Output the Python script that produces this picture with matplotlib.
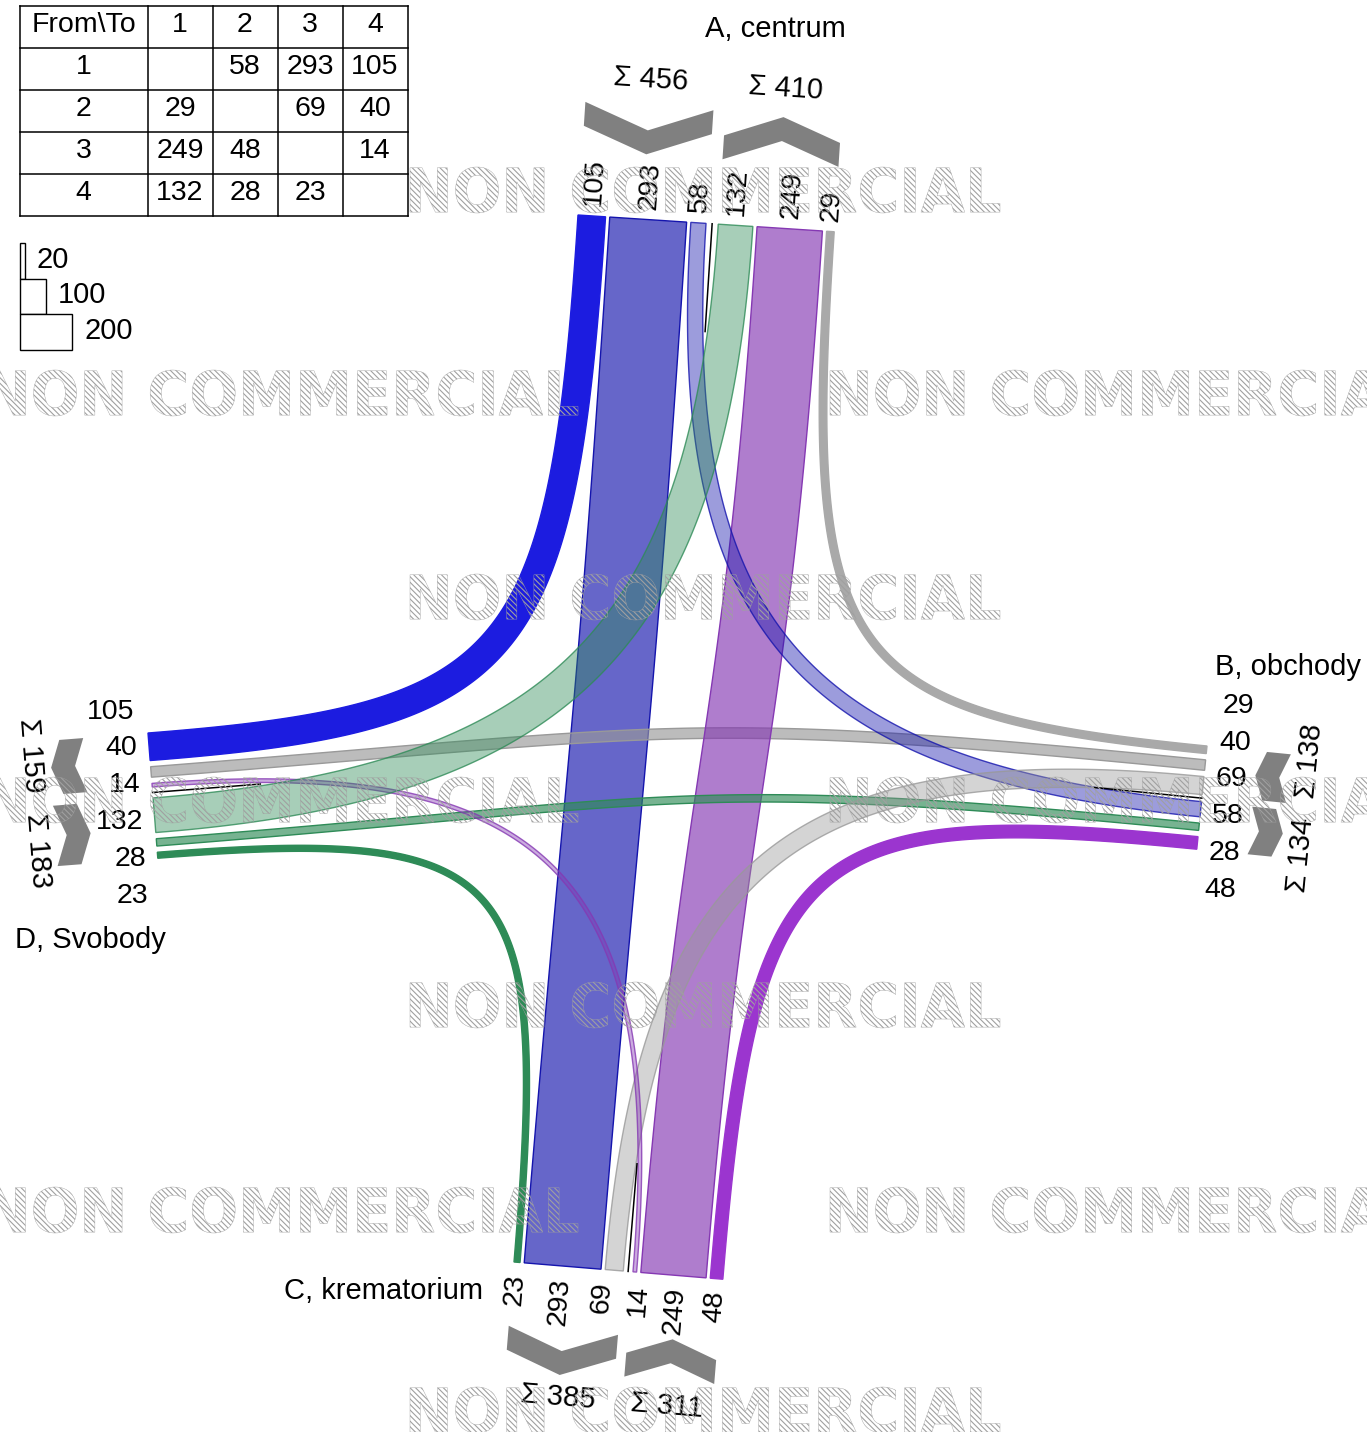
import numpy as np
import matplotlib
matplotlib.use("Agg")
import matplotlib.pyplot as plt
from matplotlib.patches import Polygon, Rectangle, PathPatch
from matplotlib.textpath import TextPath
from matplotlib.font_manager import FontProperties
from matplotlib.transforms import Affine2D

plt.rcParams['font.family'] = ['Liberation Sans', 'DejaVu Sans']
plt.rcParams['hatch.linewidth'] = 0.8
plt.rcParams['hatch.color'] = '#a0a0a0'

# ---- data ----
arm_ids = ["1", "2", "3", "4"]
arm_names = ["A, centrum", "B, obchody", "C, krematorium", "D, Svobody"]
od_matrix = [
    [0, 58, 293, 105],
    [29, 0, 69, 40],
    [249, 48, 0, 14],
    [132, 28, 23, 0],
]
legend_values = [20, 100, 200]

# ---- layout (pixel coords of the picture) ----
W, H = 1367, 1432
SCALE = 0.263  # px per vehicle

# arms: 0 top, 1 right, 2 bottom, 3 left
arms = [
    dict(base=(578, 215), ang=3.74, sgn=1, flat=False,
         lanes=[("out", 3), ("out", 2), ("out", 1), ("in", 3), ("in", 2), ("in", 1)],
         gap=4.2, med=12.2, chev=65, lab_t=10, sum_t=140, name_xy=(775, 29)),
    dict(base=(1207, 746), ang=95.66, sgn=1, flat=True,
         lanes=[("out", 0), ("out", 3), ("out", 2), ("in", 0), ("in", 3), ("in", 2)],
         gap=6.3, med=7.0, chev=51, lab_t=12, sum_t=104, name_xy=(1288, 667)),
    dict(base=(514, 1262), ang=4.72, sgn=-1, flat=False,
         lanes=[("in", 3), ("in", 0), ("in", 1), ("out", 3), ("out", 0), ("out", 1)],
         gap=4.2, med=9.7, chev=64, lab_t=12, sum_t=131, name_xy=(384, 1291)),
    dict(base=(148, 733), ang=85.53, sgn=-1, flat=True,
         lanes=[("in", 0), ("in", 1), ("in", 2), ("out", 0), ("out", 1), ("out", 2)],
         gap=6.2, med=10.9, chev=65, lab_t=12, sum_t=119, name_xy=(90, 940)),
]

strong = ['#1c1ce0', '#a9a9a9', '#9b35cf', '#2e8b57']
soft = [(0.08, 0.08, 0.68), (0.6, 0.6, 0.6), (0.52, 0.22, 0.70), (0.18, 0.545, 0.34)]

fig = plt.figure(figsize=(W / 100, H / 100), dpi=100)
ax = fig.add_axes([0, 0, 1, 1])
ax.set_xlim(0, W)
ax.set_ylim(H, 0)
ax.axis('off')


def spread(desired, step):
    groups = [[x] for x in desired]

    def place(g):
        c = sum(g) / len(g)
        return [c + (k - (len(g) - 1) / 2) * step for k in range(len(g))]
    merged = True
    while merged:
        merged = False
        for k in range(len(groups) - 1):
            if place(groups[k + 1])[0] - place(groups[k])[-1] < step - 1e-6:
                groups[k] = groups[k] + groups[k + 1]
                del groups[k + 1]
                merged = True
                break
    return [p for g in groups for p in place(g)]


def disp_angle(v):
    return np.degrees(np.arctan2(-v[1], v[0]))


# lane geometry
lane = {}
for a, arm in enumerate(arms):
    r = np.radians(arm["ang"])
    arm["e"] = np.array([np.cos(r), np.sin(r)])
    arm["n"] = arm["sgn"] * np.array([-np.sin(r), np.cos(r)])
    arm["B"] = np.array(arm["base"], float)
    s = 0.0
    prev = None
    arm["groups"] = {}
    arm["centers"] = []
    arm["values"] = []
    for kind, other in arm["lanes"]:
        v = od_matrix[a][other] if kind == "out" else od_matrix[other][a]
        w = v * SCALE
        if prev is not None:
            s += arm["med"] if kind != prev else arm["gap"]
        if kind not in arm["groups"]:
            arm["groups"][kind] = [s, s, 0]
        lane[(a, kind, other)] = (s + w / 2, w)
        arm["centers"].append(s + w / 2)
        arm["values"].append(v)
        s += w
        arm["groups"][kind][1] = s
        arm["groups"][kind][2] += v
        prev = kind


def P(arm, s, t):
    # t > 0 is outward from the junction
    return arm["B"] + arm["e"] * s - arm["n"] * t


# ---- flows ----
flows = []
for i in range(4):
    for j in range(4):
        if i != j and od_matrix[i][j] > 0:
            turn = (j - i) % 4
            order = {2: 0, 1: 1, 3: 2}[turn]
            flows.append((order, i, j, turn))
flows.sort()

tt = np.linspace(0, 1, 240)[:, None]
for order, i, j, turn in flows:
    v = od_matrix[i][j]
    si, w = lane[(i, "out", j)]
    sj, _ = lane[(j, "in", i)]
    S = P(arms[i], si, 0)
    E = P(arms[j], sj, 0)
    nS, nE = arms[i]["n"], arms[j]["n"]
    if turn == 2:
        L1 = L2 = np.linalg.norm(E - S) / 2
    else:
        ab = np.linalg.solve(np.column_stack([nS, -nE]), E - S)
        c = 0.9 if turn == 3 else 0.75
        L1, L2 = c * ab[0], c * ab[1]
    P1 = S + nS * L1
    P2 = E + nE * L2
    pts = ((1 - tt) ** 3) * S + 3 * ((1 - tt) ** 2) * tt * P1 + 3 * (1 - tt) * tt ** 2 * P2 + tt ** 3 * E
    der = 3 * ((1 - tt) ** 2) * (P1 - S) + 6 * (1 - tt) * tt * (P2 - P1) + 3 * tt ** 2 * (E - P2)
    der = der / np.linalg.norm(der, axis=1)[:, None]
    nrm = np.column_stack([-der[:, 1], der[:, 0]])
    poly = np.vstack([pts + nrm * w / 2, (pts - nrm * w / 2)[::-1]])
    if turn == 3:
        fc = ec = strong[i]
    elif turn == 2:
        fc = soft[i] + (0.65,)
        ec = soft[i] + (1.0,)
    else:
        fc = soft[i] + (0.42,)
        ec = soft[i] + (0.8,)
    ax.add_patch(Polygon(poly, closed=True, facecolor=fc, edgecolor=ec, lw=1.0, zorder=2))

# ---- arm decorations ----
for a, arm in enumerate(arms):
    g = arm["groups"]
    kinds = [k for k, _ in arm["lanes"]]
    first, second = kinds[0], kinds[-1]
    # median line
    s_med = (g[first][1] + g[second][0]) / 2
    p0, p1 = P(arm, s_med, 0), P(arm, s_med, -108)
    ax.plot([p0[0], p1[0]], [p0[1], p1[1]], color='black', lw=1.1, zorder=3)

    # chevrons
    h = 24
    t0 = arm["chev"]
    for kind in (first, second):
        s0, s1, _ = g[kind]
        sm = (s0 + s1) / 2
        d = 0.19 * (s1 - s0)
        if kind == "out":
            loc = [(s0, t0 + d), (sm, t0), (s1, t0 + d), (s1, t0 + d + h), (sm, t0 + h), (s0, t0 + d + h)]
        else:
            loc = [(s0, t0), (sm, t0 + d), (s1, t0), (s1, t0 + h), (sm, t0 + d + h), (s0, t0 + h)]
        ax.add_patch(Polygon([P(arm, s, t) for s, t in loc], closed=True,
                             facecolor='#808080', edgecolor='none', zorder=3))

    # number labels
    o = -arm["n"]
    rdir = o if o[0] > 0 else arm["n"]
    rot = 0 if arm["flat"] else disp_angle(rdir)
    ha = 'left' if rdir is o else 'right'
    for s_lab, v in zip(spread(arm["centers"], 37), arm["values"]):
        p = P(arm, s_lab, arm["lab_t"])
        ax.text(p[0], p[1], str(v), fontsize=20.5, rotation=rot, rotation_mode='anchor',
                ha=ha, va='center', zorder=5)

    # sum labels
    edir = arm["e"] if arm["e"][0] > 0 else -arm["e"]
    srot = disp_angle(edir)
    mids = [(g[k][0] + g[k][1]) / 2 for k in (first, second)]
    for s_lab, k in zip(spread(mids, 95), (first, second)):
        p = P(arm, s_lab, arm["sum_t"])
        ax.text(p[0], p[1], "\u03a3 %d" % g[k][2], fontsize=21, rotation=srot,
                rotation_mode='anchor', ha='center', va='center', zorder=5)

    ax.text(arm["name_xy"][0], arm["name_xy"][1], arm_names[a], fontsize=21,
            ha='center', va='center', zorder=5)

# ---- O-D table ----
col_x = [19.5, 147.5, 212.5, 277.5, 342.5, 407.5]
row_y = [6, 48, 90, 132, 174, 215.5]
for x in col_x:
    ax.plot([x, x], [row_y[0], row_y[-1]], color='black', lw=1.1, zorder=5)
for y in row_y:
    ax.plot([col_x[0], col_x[-1]], [y, y], color='black', lw=1.1, zorder=5)
cells = [["From\\To"] + arm_ids]
for i in range(4):
    cells.append([arm_ids[i]] + [str(v) if v else "" for v in od_matrix[i]])
for r, row in enumerate(cells):
    for c, txt in enumerate(row):
        ax.text((col_x[c] + col_x[c + 1]) / 2, (row_y[r] + row_y[r + 1]) / 2 - 2, txt,
                fontsize=20.5, ha='center', va='center', zorder=5)

# ---- width legend ----
top = 243
for v in legend_values:
    w = v * SCALE
    hbox = 35.5
    ax.add_patch(Rectangle((19.5, top), w, hbox, facecolor='white', edgecolor='black',
                           lw=1.0, zorder=5))
    ax.text(19.5 + w + 12, top + hbox / 2 - 1, str(v), fontsize=21, ha='left',
            va='center', zorder=6)
    top += hbox

# ---- watermark ----
wm_prop = FontProperties(family="DejaVu Sans", weight="bold")
wm_path = TextPath((0, 0), "NON COMMERCIAL", size=60, prop=wm_prop)
ext = wm_path.get_extents()
rows_y = [190, 393, 597, 800, 1005, 1210, 1410]
for k, cy in enumerate(rows_y):
    xs = [705] if k % 2 == 0 else [283, 1125]
    for cx in xs:
        tr = (Affine2D().translate(-(ext.x0 + ext.x1) / 2, -(ext.y0 + ext.y1) / 2)
              .scale(590 / ext.width, -46 / ext.height).translate(cx, cy))
        ax.add_patch(PathPatch(tr.transform_path(wm_path), facecolor='none',
                               edgecolor='#a0a0a0', hatch='\\\\\\\\\\\\', lw=0.3, zorder=20))

fig.savefig("out.png", dpi=100)
